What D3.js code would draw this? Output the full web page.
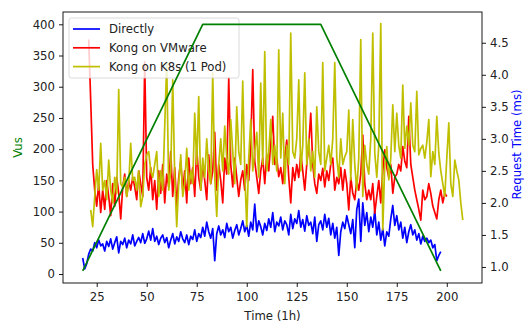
<!DOCTYPE html>
<html>
<head>
<meta charset="utf-8">
<script src="https://cdn.jsdelivr.net/npm/d3@7/dist/d3.min.js"></script>
<style>
  body { margin: 0; background: #fff; }
  text { font-family: "DejaVu Sans", sans-serif; }
</style>
</head>
<body>
<div id="chart"></div>
<script>
// Vus ramp (left axis)
const vusTimes = [18, 78, 137, 197];
const vusValues = [5, 400, 400, 5];

// request times in ms (right axis), one sample per hour from the start time
const directlyStart = 18;
const directly = [
  1.14, 0.97, 1.05, 1.20, 1.28, 1.25, 1.38, 1.30, 1.42, 1.33,
  1.36, 1.25, 1.40, 1.32, 1.44, 1.28, 1.38, 1.47, 1.22, 1.40,
  1.35, 1.45, 1.30, 1.42, 1.36, 1.50, 1.33, 1.40, 1.46, 1.38,
  1.52, 1.37, 1.44, 1.56, 1.42, 1.60, 1.40, 1.48, 1.35, 1.45,
  1.50, 1.38, 1.46, 1.30, 1.42, 1.52, 1.36, 1.47, 1.40, 1.55,
  1.44, 1.38, 1.50, 1.35, 1.48, 1.43, 1.58, 1.40, 1.52, 1.46,
  1.62, 1.48, 1.70, 1.55, 1.45, 1.60, 1.10, 1.52, 1.64, 1.50,
  1.58, 1.46, 1.68, 1.55, 1.62, 1.45, 1.57, 1.66, 1.50, 1.60,
  1.72, 1.55, 1.65, 1.48, 1.70, 1.58, 1.98, 1.55, 1.72, 1.63,
  1.50, 1.68, 1.57, 1.75, 1.62, 1.85, 1.55, 1.70, 1.64, 1.78,
  1.58, 1.72, 1.66, 1.50, 1.82, 1.60, 1.75, 1.68, 1.88, 1.62,
  1.74, 1.56, 1.80, 1.65, 1.70, 1.52, 1.78, 1.40, 1.66, 1.72,
  1.58, 1.82, 1.62, 1.76, 1.50, 1.68, 1.45, 1.62, 1.18, 1.55,
  1.70, 1.60, 1.80, 1.66, 1.52, 1.74, 1.30, 1.90, 2.06, 1.40,
  2.00, 1.65, 1.85, 1.55, 1.78, 1.62, 1.88, 1.50, 1.70, 1.42,
  1.60, 1.33, 1.55, 1.48, 1.75, 1.96, 1.65, 1.80, 1.58, 1.70,
  1.45, 1.62, 1.38, 1.55, 1.66, 1.50, 1.58, 1.42, 1.52, 1.36,
  1.48, 1.40, 1.45, 1.38, 1.42, 1.30, 1.35, 1.10, 1.18, 1.24
];

const vmwareStart = 21;
const vmware = [
  4.55, 3.60, 2.60, 2.20, 1.95, 2.30, 1.85, 2.20, 1.90, 2.35,
  2.10, 1.80, 2.30, 1.95, 2.40, 2.15, 1.75, 2.25, 2.45, 2.10,
  2.35, 2.20, 2.40, 2.25, 2.05, 2.50, 2.30, 2.10, 4.20, 2.40,
  2.20, 2.55, 2.05, 2.35, 1.90, 2.50, 2.15, 2.60, 2.00, 2.45,
  2.25, 2.80, 2.10, 2.55, 1.95, 2.40, 2.65, 2.20, 2.50, 2.00,
  2.70, 2.30, 2.55, 2.10, 2.85, 2.40, 2.20, 2.60, 2.35, 2.05,
  2.75, 2.30, 2.50, 3.10, 2.20, 2.60, 2.35, 2.00, 2.70, 2.45,
  3.95, 2.60, 2.25, 2.70, 2.40, 2.10, 2.36, 2.50, 2.20, 2.60,
  2.35, 2.90, 4.08, 2.65, 2.40, 2.15, 2.50, 2.70, 2.30, 2.75,
  2.50, 2.95, 3.35, 2.60, 2.70, 2.41, 2.55, 2.30, 2.70, 2.98,
  2.40, 2.00, 2.55, 2.35, 2.60, 2.40, 2.77, 2.50, 2.20, 2.60,
  2.90, 3.40, 2.60, 2.30, 2.15, 2.45, 2.35, 2.54, 2.25, 2.50,
  2.35, 2.60, 2.70, 2.20, 2.40, 2.30, 2.55, 2.20, 2.52, 2.30,
  1.89, 2.40, 2.15, 2.05, 2.35, 2.20, 2.45, 3.06, 2.30, 2.05,
  2.20, 2.05, 2.30, 1.84, 2.10, 2.35, 2.00, 2.50, 2.83, 2.55,
  2.40, 2.60, 2.15, 2.40, 2.45, 2.60, 2.50, 2.88, 2.65, 2.55,
  3.35, 2.60, 2.40, 2.20, 2.05, 1.90, 1.73, 2.20, 2.05, 2.10,
  2.30, 2.15, 1.95, 1.85, 1.75, 2.05, 2.20, 2.00, 2.15, 2.10
];

const k8sStart = 22;
const k8s = [
  1.89, 1.63, 2.10, 2.52, 2.20, 2.93, 2.20, 2.35, 2.05,
  2.67, 2.20, 2.00, 2.40, 2.15, 3.77, 2.30, 2.25, 2.40, 2.10,
  2.30, 2.93, 2.35, 2.40, 2.20, 2.50, 1.94, 2.10, 2.60, 2.75,
  2.80, 2.50, 2.40, 2.60, 2.80, 2.10, 2.50, 2.20, 3.20, 4.19,
  2.20, 2.50, 3.92, 2.40, 1.63, 2.30, 2.75, 2.10, 2.30, 2.85,
  2.20, 2.50, 2.30, 3.40, 2.60, 3.66, 2.20, 2.70, 2.40, 3.00,
  2.50, 2.30, 4.03, 2.40, 1.79, 2.60, 3.00, 2.50, 3.20, 2.70,
  2.45, 3.30, 2.80, 2.30, 3.50, 2.80, 2.60, 3.90, 2.50, 1.63,
  2.70, 3.30, 2.50, 2.80, 3.10, 2.40, 3.87, 2.60, 4.36, 2.50,
  2.80, 3.30, 2.60, 2.90, 2.50, 4.39, 2.70, 3.40, 2.30, 2.90,
  2.60, 4.65, 2.80, 2.70, 3.00, 3.92, 2.50, 2.90, 4.03, 2.60,
  3.00, 2.50, 2.80, 2.40, 3.50, 2.80, 2.60, 4.19, 2.50, 2.70,
  2.90, 2.60, 3.00, 4.19, 2.70, 2.40, 3.00, 2.60, 2.72, 2.80,
  3.45, 2.36, 3.30, 2.60, 2.20, 2.70, 4.55, 2.10, 2.90, 2.60,
  2.45, 3.00, 4.65, 2.78, 2.40, 2.90, 4.80, 1.58, 2.60, 2.88,
  2.36, 2.70, 3.53, 2.80, 3.40, 2.90, 2.70, 3.84, 2.85, 3.20,
  2.90, 3.56, 2.90, 2.80, 3.74, 2.75, 2.85, 2.90, 2.70, 2.95,
  3.30, 2.41, 2.80, 2.60, 3.35, 2.78, 2.50, 2.30, 2.10, 2.70,
  3.25, 2.30, 2.10, 2.67, 2.50, 2.36, 2.00, 1.73
];

const xTicks = [25, 50, 75, 100, 125, 150, 175, 200];
const vusTicks = [0, 50, 100, 150, 200, 250, 300, 350, 400];
const msTicks = [1.0, 1.5, 2.0, 2.5, 3.0, 3.5, 4.0, 4.5];

const width = 524;
const height = 323;
const plot = {left: 63, right: 482, top: 12, bottom: 283};
const fontSize = 11.7;

const svg = d3.select('#chart').append('svg')
  .attr('width', width)
  .attr('height', height);

const xScale = d3.scaleLinear().domain([8.15, 217.6]).range([plot.left, plot.right]);
const yVus = d3.scaleLinear().domain([-14.4, 419.7]).range([plot.bottom, plot.top]);
const yMs = d3.scaleLinear().domain([0.75, 4.98]).range([plot.bottom, plot.top]);

function styleAxis(g) {
  g.select('.domain').remove();
  g.selectAll('line').attr('stroke', '#000').attr('stroke-width', 0.9);
  g.selectAll('text')
    .attr('fill', '#222')
    .style('font-size', fontSize + 'px')
    .style('font-family', '"DejaVu Sans", sans-serif');
}

svg.append('g')
  .attr('transform', `translate(0,${plot.bottom})`)
  .call(d3.axisBottom(xScale).tickValues(xTicks).tickSize(4).tickPadding(5.5).tickFormat(d3.format('d')))
  .call(styleAxis);

svg.append('g')
  .attr('transform', `translate(${plot.left},0)`)
  .call(d3.axisLeft(yVus).tickValues(vusTicks).tickSize(4).tickPadding(4).tickFormat(d3.format('d')))
  .call(styleAxis);

svg.append('g')
  .attr('transform', `translate(${plot.right},0)`)
  .call(d3.axisRight(yMs).tickValues(msTicks).tickSize(4).tickPadding(4).tickFormat(d3.format('.1f')))
  .call(styleAxis);

svg.append('clipPath').attr('id', 'clip')
  .append('rect')
  .attr('x', plot.left).attr('y', plot.top)
  .attr('width', plot.right - plot.left).attr('height', plot.bottom - plot.top);

const msLine = start => d3.line()
  .x((d, i) => xScale(start + i))
  .y(d => yMs(d));

const series = [
  {name: 'Directly', start: directlyStart, values: directly, color: '#0000ff'},
  {name: 'Kong on VMware', start: vmwareStart, values: vmware, color: '#ff0000'},
  {name: 'Kong on K8s (1 Pod)', start: k8sStart, values: k8s, color: '#bfbf00'}
];

const linesGroup = svg.append('g').attr('clip-path', 'url(#clip)');

series.forEach(s => {
  linesGroup.append('path')
    .datum(s.values)
    .attr('d', msLine(s.start))
    .attr('fill', 'none')
    .attr('stroke', s.color)
    .attr('stroke-width', 1.7)
    .attr('stroke-linejoin', 'round');
});

// legend (belongs to the right-hand axes)
const legend = svg.append('g').attr('transform', 'translate(69,18)');
legend.append('rect')
  .attr('width', 170).attr('height', 60)
  .attr('rx', 2.5)
  .attr('fill', '#fff').attr('fill-opacity', 0.8)
  .attr('stroke', '#ccc').attr('stroke-opacity', 0.8)
  .attr('stroke-width', 0.9);

const items = legend.selectAll('.item')
  .data(series)
  .enter()
  .append('g')
  .classed('item', true)
  .attr('transform', (d, i) => `translate(0,${11 + i * 18.8})`);

items.append('line')
  .attr('x1', 4).attr('x2', 31)
  .attr('stroke', d => d.color)
  .attr('stroke-width', 1.7);

items.append('text')
  .attr('x', 40)
  .attr('dy', '0.35em')
  .attr('fill', '#222')
  .style('font-size', fontSize + 'px')
  .text(d => d.name);

// Vus axes sit on top, so the green ramp is drawn last
svg.append('g').attr('clip-path', 'url(#clip)')
  .append('path')
  .datum(vusValues)
  .attr('d', d3.line().x((d, i) => xScale(vusTimes[i])).y(d => yVus(d)))
  .attr('fill', 'none')
  .attr('stroke', '#008000')
  .attr('stroke-width', 1.7)
  .attr('stroke-linejoin', 'round');

// frame
svg.append('rect')
  .attr('x', plot.left).attr('y', plot.top)
  .attr('width', plot.right - plot.left).attr('height', plot.bottom - plot.top)
  .attr('fill', 'none')
  .attr('stroke', '#000')
  .attr('stroke-width', 0.9);

svg.append('text')
  .attr('x', (plot.left + plot.right) / 2)
  .attr('y', 320)
  .attr('text-anchor', 'middle')
  .attr('fill', '#222')
  .style('font-size', fontSize + 'px')
  .text('Time (1h)');

svg.append('text')
  .attr('transform', `translate(21.5,${(plot.top + plot.bottom) / 2}) rotate(-90)`)
  .attr('text-anchor', 'middle')
  .attr('fill', '#008000')
  .style('font-size', fontSize + 'px')
  .text('Vus');

svg.append('text')
  .attr('transform', `translate(521,${(plot.top + plot.bottom) / 2 - 3}) rotate(-90)`)
  .attr('text-anchor', 'middle')
  .attr('fill', '#0000ff')
  .style('font-size', fontSize + 'px')
  .text('Request Time (ms)');
</script>
</body>
</html>
